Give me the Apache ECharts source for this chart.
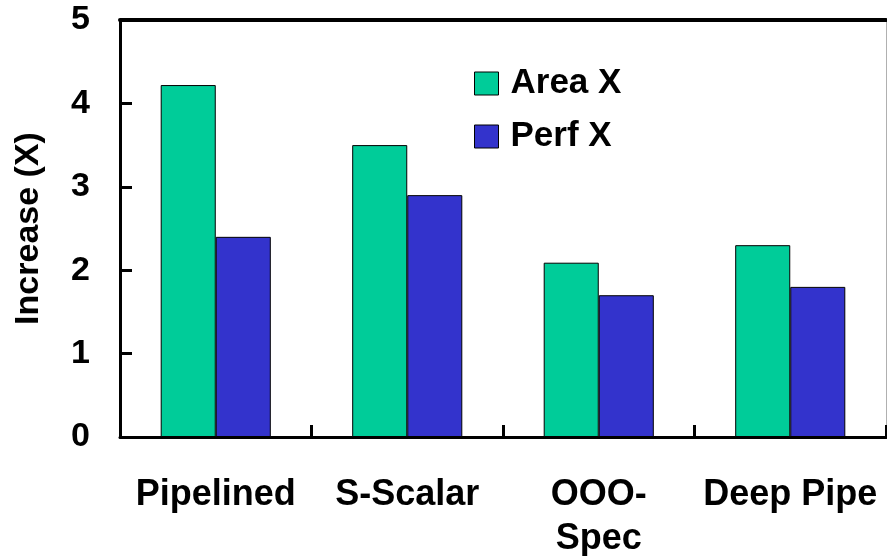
<!DOCTYPE html>
<html>
<head>
<meta charset="utf-8">
<style>
  html, body { margin: 0; padding: 0; background: #fff; }
  #chart { width: 887px; height: 556px; }
</style>
<script src="https://cdn.jsdelivr.net/npm/echarts@6/dist/echarts.min.js"></script>
</head>
<body>
<div id="chart"></div>
<script>
// Pipeline design variants and their relative growth
const categories = ['Pipelined', 'S-Scalar', 'OOO-\nSpec', 'Deep Pipe'];
const areaX = [4.22, 3.5, 2.09, 2.3];
const perfX = [2.4, 2.9, 1.7, 1.8];
const yTicks = [0, 1, 2, 3, 4, 5];

const FONT = '"Liberation Sans", Arial, sans-serif';

const chart = echarts.init(document.getElementById('chart'), null, { renderer: 'canvas' });

chart.setOption({
  animation: false,
  backgroundColor: '#ffffff',
  textStyle: { fontFamily: FONT },
  grid: {
    left: 120, right: 1, top: 20, bottom: 119,
    containLabel: false,
    outerBoundsMode: 'none'
  },
  legend: {
    orient: 'vertical',
    left: 474,
    top: 66,
    padding: 0,
    itemWidth: 24,
    itemHeight: 23,
    itemGap: 18,
    icon: 'rect',
    data: ['Area X', 'Perf X'],
    textStyle: {
      fontFamily: FONT, fontWeight: 'bold', fontSize: 35, lineHeight: 34,
      color: '#000', padding: [0, 0, 0, 7]
    },
    itemStyle: { borderColor: '#000', borderWidth: 1 }
  },
  xAxis: [
    {
      type: 'category',
      data: categories,
      position: 'bottom',
      axisLine: { onZero: false, lineStyle: { color: '#000', width: 3 } },
      axisTick: { show: true, inside: true, length: 12, lineStyle: { color: '#000', width: 3 } },
      axisLabel: {
        interval: 0,
        margin: 36,
        fontFamily: FONT,
        fontWeight: 'bold',
        fontSize: 36,
        color: '#000',
        lineHeight: 44
      },
      splitLine: { show: false }
    },
    {
      type: 'category',
      data: categories,
      position: 'top',
      axisLine: { onZero: false, lineStyle: { color: '#000', width: 4 } },
      axisTick: { show: false },
      axisLabel: { show: false }
    }
  ],
  yAxis: [
    {
      type: 'value',
      min: yTicks[0],
      max: yTicks[yTicks.length - 1],
      interval: 1,
      name: 'Increase (X)',
      nameLocation: 'middle',
      nameGap: 74,
      nameTextStyle: { fontFamily: FONT, fontWeight: 'bold', fontSize: 34, color: '#000' },
      axisLine: { show: true, onZero: false, lineStyle: { color: '#000', width: 3 } },
      axisTick: { show: true, inside: true, length: 12, lineStyle: { color: '#000', width: 3 } },
      axisLabel: { margin: 30, fontFamily: FONT, fontWeight: 'bold', fontSize: 34, color: '#000' },
      splitLine: { show: false }
    },
    {
      type: 'value',
      min: yTicks[0],
      max: yTicks[yTicks.length - 1],
      interval: 1,
      position: 'right',
      axisLine: { show: true, onZero: false, lineStyle: { color: '#b0b0b0', width: 1 } },
      axisTick: { show: false },
      axisLabel: { show: false },
      splitLine: { show: false }
    }
  ],
  series: [
    {
      name: 'Area X',
      type: 'bar',
      data: areaX,
      barGap: '0%',
      barCategoryGap: '42.5%',
      itemStyle: { color: '#00CC99', borderColor: '#000', borderWidth: 1 }
    },
    {
      name: 'Perf X',
      type: 'bar',
      data: perfX,
      barGap: '0%',
      barCategoryGap: '42.5%',
      itemStyle: { color: '#3333CC', borderColor: '#000', borderWidth: 1 }
    }
  ]
});
</script>
</body>
</html>
